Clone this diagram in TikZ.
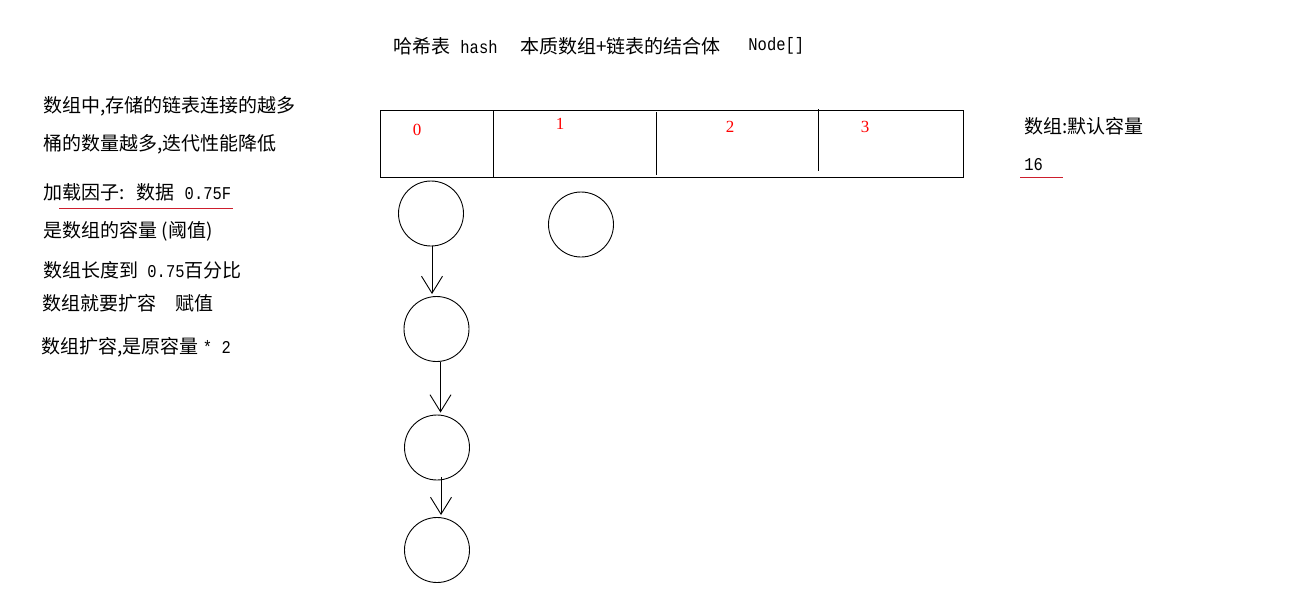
\documentclass[tikz,border=0pt]{standalone}
\usepackage{graphicx}
\usepackage{fontspec}
\setmainfont{Noto Sans CJK SC}
\newfontfamily\monofnt{Liberation Mono}
\newfontfamily\serifnum{Liberation Serif}
\newcommand\lat[1]{\scalebox{0.86}[1]{\monofnt\fontsize{18}{20}\selectfont #1}}
\usetikzlibrary{arrows.meta}
\definecolor{ulred}{RGB}{205,30,45}
\begin{document}
\begin{tikzpicture}[x=1pt,y=-1pt,line width=0.9pt,
  txt/.style={anchor=west,inner sep=0pt,font=\fontsize{19}{21}\selectfont},
  idx/.style={text=red,inner sep=0pt,font=\serifnum\fontsize{17}{19}\selectfont},
  bucket/.style={circle,draw,minimum size=65pt,inner sep=0pt},
  link/.style={-{Straight Barb[length=17pt,width=21pt]}},
  redline/.style={draw=ulred,line width=1pt}]
\useasboundingbox[fill=white] (0,0) rectangle (1299,603);
% title
\node[txt] (t1) at (393,46) {哈希表\hspace{10pt}\lat{hash}};
\node[txt] (t2) at (520,46) {本质数组+链表的结合体};
\node[txt] (t3) at (748,46) {\lat{Node[]}};
% left notes
\node[txt] (l1) at (43,106) {数组中,存储的链表连接的越多};
\node[txt] (l2) at (43,144) {桶的数量越多,迭代性能降低};
\node[txt] (l3) at (43,192) {加载因子:\hspace{12pt}数据\hspace{10pt}\lat{0.75F}};
\coordinate (u1a) at (59,208);
\coordinate (u1b) at (233,208);
\draw[redline] (u1a) -- (u1b);
\node[txt] (l4) at (43,231) {是数组的容量 (阈值)};
\node[txt] (l5) at (43,270) {数组长度到\hspace{9pt}\lat{0.75}百分比};
\node[txt] (l6) at (42,303) {数组就要扩容\quad 赋值};
\node[txt] (l7) at (41,347) {数组扩容,是原容量 \lat{* 2}};
% array
\node[draw,anchor=north west,minimum width=583pt,minimum height=67pt,inner sep=0pt] (arr) at (380,110) {};
\draw (493,110) -- (493,177);
\draw (656,112) -- (656,175);
\draw (818,109) -- (818,171);
\node[idx] (i0) at (417,130) {0};
\node[idx] (i1) at (560,124) {1};
\node[idx] (i2) at (730,127) {2};
\node[idx] (i3) at (865,127) {3};
% right notes
\node[txt] (r1) at (1024,126) {数组:默认容量};
\node[txt] (r2) at (1024,165) {\lat{16}};
\coordinate (u2a) at (1020,177);
\coordinate (u2b) at (1063,177);
\draw[redline] (u2a) -- (u2b);
% buckets
\node[bucket] (c1) at (431,213.5) {};
\node[bucket] (c2) at (581,224.5) {};
\node[bucket] (c3) at (436.5,329) {};
\node[bucket] (c4) at (437,447.5) {};
\node[bucket] (c5) at (437,550) {};
\draw[link] ([xshift=1pt]c1.south) -- ([xshift=1pt,yshift=2pt]c1.south |- c3.north);
\draw[link] ([xshift=4pt]c3.south) -- ([xshift=4pt,yshift=2pt]c3.south |- c4.north);
\draw[link] ([xshift=4pt,yshift=3pt]c4.south) -- ([xshift=4pt,yshift=2pt]c4.south |- c5.north);
\end{tikzpicture}
\end{document}
